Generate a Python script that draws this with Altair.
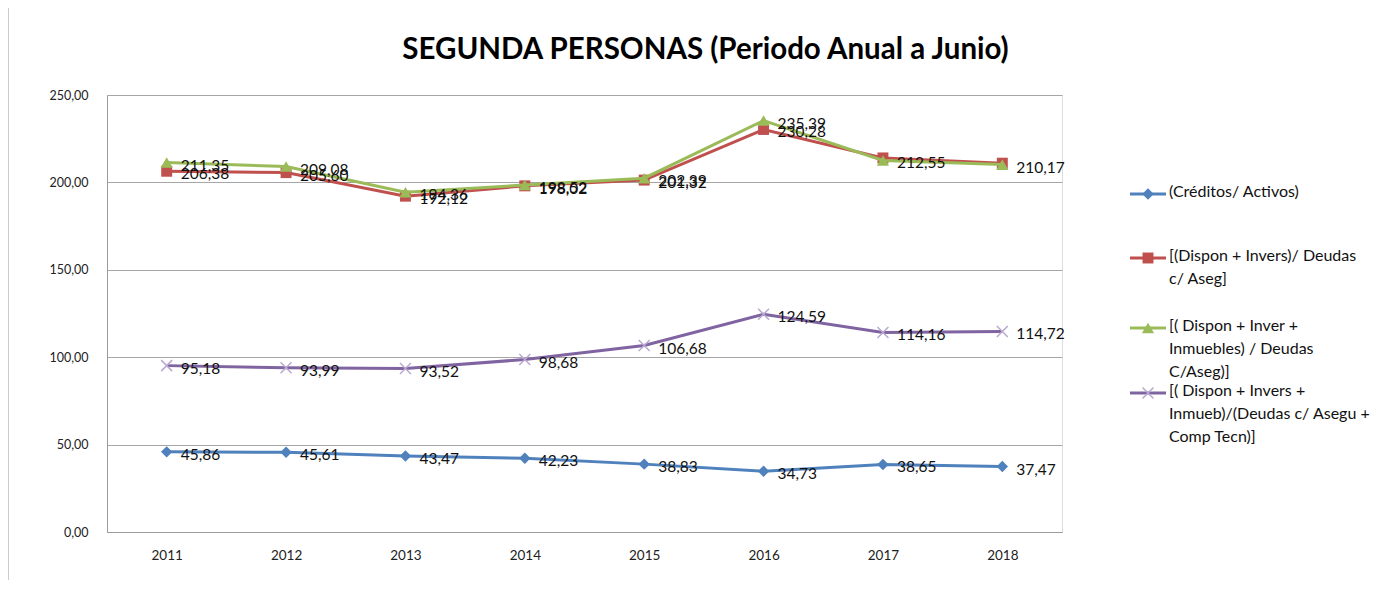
import altair as alt
import pandas as pd

# ---------------- data ----------------
years = ["2011", "2012", "2013", "2014", "2015", "2016", "2017", "2018"]
creditos_activos = [45.86, 45.61, 43.47, 42.23, 38.83, 34.73, 38.65, 37.47]
dispon_invers = [206.38, 205.60, 192.12, 198.02, 201.32, 230.28, 214.00, 211.00]
dispon_inver_inmuebles = [211.35, 209.08, 194.36, 198.52, 202.39, 235.39, 212.55, 210.17]
dispon_invers_comp = [95.18, 93.99, 93.52, 98.68, 106.68, 124.59, 114.16, 114.72]
# labels shown in the original (red series labels hidden for 2017 and 2018)
show_creditos = [True] * 8
show_dispon_invers = [True, True, True, True, True, True, False, False]
show_inmuebles = [True] * 8
show_comp = [True] * 8

series_names = [
    "(Créditos/ Activos)",
    "[(Dispon + Invers)/ Deudas c/ Aseg]",
    "[( Dispon + Inver + Inmuebles) / Deudas C/Aseg)]",
    "[( Dispon + Invers + Inmueb)/(Deudas c/ Asegu + Comp Tecn)]",
]
legend_lines = [
    ["(Créditos/ Activos)"],
    ["[(Dispon + Invers)/ Deudas", "c/ Aseg]"],
    ["[( Dispon + Inver +", "Inmuebles) / Deudas", "C/Aseg)]"],
    ["[( Dispon + Invers +", "Inmueb)/(Deudas c/ Asegu +", "Comp Tecn)]"],
]
series_values = [creditos_activos, dispon_invers, dispon_inver_inmuebles, dispon_invers_comp]
series_show = [show_creditos, show_dispon_invers, show_inmuebles, show_comp]
y_ticks = [0, 50, 100, 150, 200, 250]

# ---------------- styles ----------------
colors = ["#4f81bd", "#c0504d", "#9bbb59", "#8064a2"]
marker_colors = ["#4f81bd", "#c0504d", "#9bbb59", "#b9a8d0"]
shapes = ["diamond", "square", "triangle-up", "M-1,-1L1,1M-1,1L1,-1"]
sizes = [130, 120, 150, 120]
filled = [True, True, True, False]
FONT = "Lato"

W, H = 955, 437
PAD_L, PAD_T = 99, 87
legend_sym_y = [99, 163, 233, 298]

rows = []
for name, vals, show in zip(series_names, series_values, series_show):
    for yr, v, s in zip(years, vals, show):
        rows.append({
            "series": name,
            "year": yr,
            "value": v,
            "label": (f"{v:.2f}".replace(".", ",")) if s else "",
        })
df = pd.DataFrame(rows)

x_enc = alt.X("year:O", title=None, sort=years,
              scale=alt.Scale(type="point", padding=0.5),
              axis=alt.Axis(labelAngle=0, labelFont=FONT, labelFontSize=13.5,
                            labelColor="#222222", labelPadding=16, ticks=False,
                            domain=True, domainColor="#9a9a9a", grid=False))
y_enc = alt.Y("value:Q", title=None,
              scale=alt.Scale(domain=[0, 250], nice=False),
              axis=alt.Axis(values=y_ticks, labelFont=FONT, labelFontSize=12.5,
                            labelColor="#222222", labelPadding=19, ticks=False,
                            domainColor="#9a9a9a", gridColor="#a6a6a6",
                            gridWidth=1,
                            labelExpr="replace(format(datum.value, '.2f'), '.', ',')"))

layers = []
for i, name in enumerate(series_names):
    sub = alt.Chart(df).transform_filter(alt.datum.series == name)
    layers.append(sub.mark_line(color=colors[i], strokeWidth=3).encode(x=x_enc, y=y_enc))
    if filled[i]:
        pt = sub.mark_point(shape=shapes[i], filled=True, size=sizes[i],
                            color=marker_colors[i], opacity=1)
    else:
        pt = sub.mark_point(shape=shapes[i], filled=False, size=sizes[i],
                            color=marker_colors[i], strokeWidth=1.5, opacity=1)
    layers.append(pt.encode(x=x_enc, y=y_enc))

for i, name in enumerate(series_names):
    sub = alt.Chart(df).transform_filter(alt.datum.series == name)
    layers.append(sub.mark_text(align="left", baseline="middle", dx=14, dy=3,
                                font=FONT, fontSize=15.5, color="#111111")
                  .encode(x=x_enc, y=y_enc, text="label:N"))

# ---------------- manual legend ----------------
one = pd.DataFrame({"k": [0]})
for i, name in enumerate(series_names):
    sy = legend_sym_y[i]
    base = alt.Chart(one)
    layers.append(base.mark_rule(color=colors[i], strokeWidth=3).encode(
        x=alt.value(W + 68), x2=alt.value(W + 104), y=alt.value(sy)))
    if filled[i]:
        lp = base.mark_point(shape=shapes[i], filled=True, size=sizes[i],
                             color=marker_colors[i], opacity=1)
    else:
        lp = base.mark_point(shape=shapes[i], filled=False, size=sizes[i],
                             color=marker_colors[i], strokeWidth=1.5, opacity=1)
    layers.append(lp.encode(x=alt.value(W + 86), y=alt.value(sy)))
    layers.append(base.mark_text(align="left", baseline="top", font=FONT,
                                 fontSize=16, lineHeight=23, color="#111111")
                  .encode(x=alt.value(W + 107), y=alt.value(sy - 10),
                          text=alt.value(legend_lines[i])))

# left frame line of the chart area
layers.append(alt.Chart(one).mark_rule(color="#9a9a9a", strokeWidth=1).encode(
    x=alt.value(-PAD_L), y=alt.value(-PAD_T), y2=alt.value(H + 60)))

chart = alt.layer(*layers).properties(
    width=W, height=H,
    title=alt.TitleParams("SEGUNDA PERSONAS (Periodo Anual a Junio)",
                          font=FONT, fontSize=29.5, fontWeight="bold",
                          color="#000000", anchor="middle", dx=121, offset=-58),
    autosize=alt.AutoSizeParams(type="none"),
    padding={"left": PAD_L, "top": PAD_T, "right": 1384 - PAD_L - W, "bottom": 48},
).configure_view(stroke=None).configure(background="white")

chart.save("out.html", embed_options={"renderer": "svg", "actions": False})
